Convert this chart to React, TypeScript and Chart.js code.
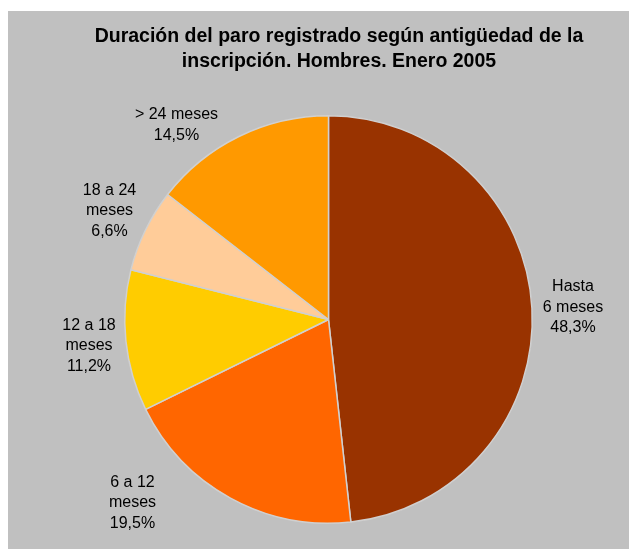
import React, { useEffect, useRef } from "react";
import { Chart, registerables } from "chart.js";

Chart.register(...registerables);

const categories = ["Hasta 6 meses", "6 a 12 meses", "12 a 18 meses", "18 a 24 meses", "> 24 meses"];
const values = [48.3, 19.5, 11.2, 6.6, 14.5];
const labelLines = [
  ["Hasta", "6 meses", "48,3%"],
  ["6 a 12", "meses", "19,5%"],
  ["12 a 18", "meses", "11,2%"],
  ["18 a 24", "meses", "6,6%"],
  ["> 24 meses", "14,5%"],
];
const colors = ["#993300", "#FF6600", "#FFCC00", "#FFCC99", "#FF9900"];
const titleLines = ["Duración del paro registrado según antigüedad de la", "inscripción. Hombres. Enero 2005"];

// label anchor offsets relative to pie center (placement only)
const labelOffsets: [number, number][] = [
  [244.5, -12],
  [-196, 183.5],
  [-239.5, 26.5],
  [-219, -108.5],
  [-152, -194.5],
];

const FONT = "'Liberation Sans', Arial, sans-serif";

const labelPlugin = {
  id: "pieLabels",
  afterDraw(chart: any) {
    const ctx = chart.ctx;
    const meta = chart.getDatasetMeta(0);
    const arc = meta.data[0];
    if (!arc) return;
    const cx = arc.x, cy = arc.y;
    ctx.save();
    ctx.fillStyle = "#000";
    ctx.textAlign = "center";
    ctx.textBaseline = "middle";
    ctx.font = `16px ${FONT}`;
    const lh = 20.5;
    labelLines.forEach((lines, i) => {
      const [dx, dy] = labelOffsets[i];
      const x = cx + dx, y = cy + dy;
      const start = y - ((lines.length - 1) * lh) / 2;
      lines.forEach((t, j) => ctx.fillText(t, x, start + j * lh));
    });
    ctx.font = `bold 19.5px ${FONT}`;
    ctx.fillText(titleLines[0], 331, 26);
    ctx.fillText(titleLines[1], 331, 51);
    ctx.restore();
  },
};

export default function App() {
  const ref = useRef<HTMLCanvasElement>(null);
  useEffect(() => {
    if (!ref.current) return;
    const chart = new Chart(ref.current, {
      type: "pie",
      data: {
        labels: categories,
        datasets: [
          {
            data: values,
            backgroundColor: colors,
            borderColor: "#D0D0D0",
            borderWidth: 1.5,
          },
        ],
      },
      options: {
        animation: false,
        responsive: false,
        layout: { padding: { top: 104, bottom: 25, left: 116, right: 104 } },
        plugins: {
          legend: { display: false },
          tooltip: { enabled: false },
          title: { display: false },
        },
      },
      plugins: [labelPlugin],
    });
    return () => chart.destroy();
  }, []);
  return (
    <div style={{ marginTop: 3, width: 629, height: 538, background: "#C0C0C0" }}>
      <canvas ref={ref} width={629} height={538} style={{ display: "block" }} />
    </div>
  );
}
